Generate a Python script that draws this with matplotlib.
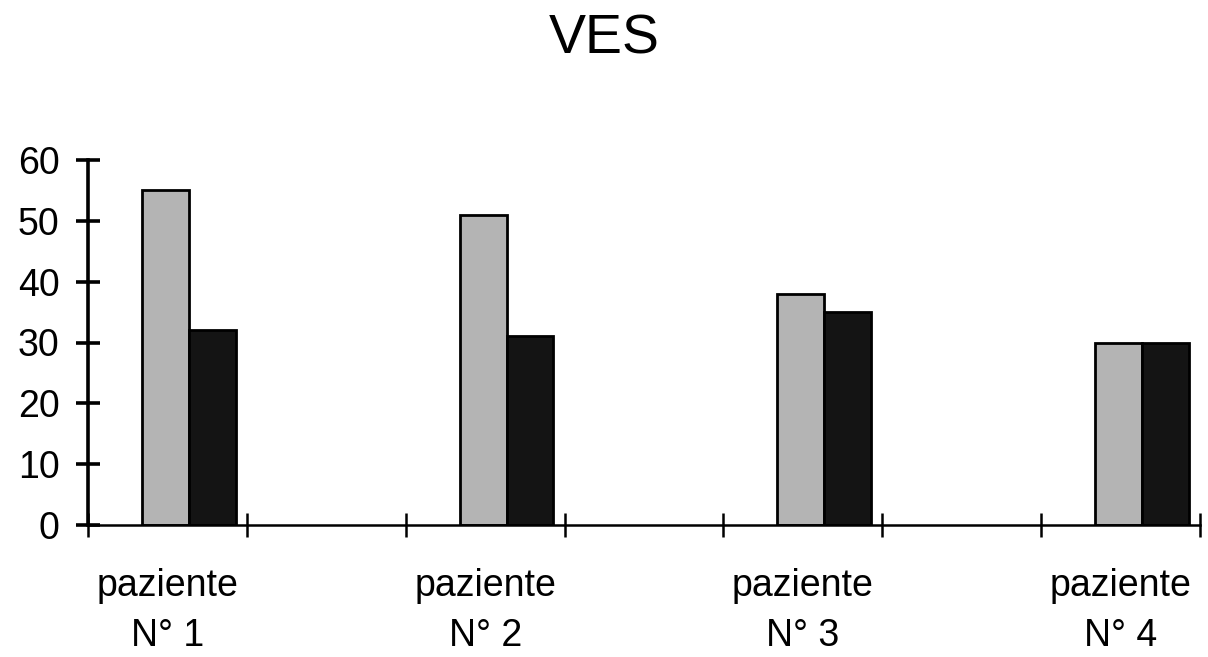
import numpy as np
import matplotlib.pyplot as plt

# Valeurs
pazienti = ["paziente\nN° 1", "paziente\nN° 2", "paziente\nN° 3", "paziente\nN° 4"]
ves_prima = [55, 51, 38, 30]
ves_dopo = [32, 31, 35, 30]
yticks = [0, 10, 20, 30, 40, 50, 60]

plt.rcParams['font.family'] = ['Liberation Sans', 'DejaVu Sans']

fig = plt.figure(figsize=(12.08, 6.57), dpi=100)
ax = fig.add_axes([88 / 1208, 1 - 525 / 657, (1200 - 88) / 1208, (525 - 160) / 657])

pos = np.arange(len(pazienti)) * 2
largeur = 0.295
ax.bar(pos + 0.635, ves_prima, width=-largeur, align='edge',
       color='#b4b4b4', edgecolor='black', linewidth=2.0)
ax.bar(pos + 0.635, ves_dopo, width=largeur, align='edge',
       color='#141414', edgecolor='black', linewidth=2.0)

ax.set_xlim(0, 7)
ax.set_ylim(0, 60)
ax.set_yticks(yticks)
ax.set_xticks(np.arange(0, 8))
ax.set_xticklabels([])
ax.set_xticks(pos + 0.5, pazienti, minor=True)

ax.spines['top'].set_visible(False)
ax.spines['right'].set_visible(False)
ax.spines['left'].set_linewidth(2.6)
ax.spines['bottom'].set_linewidth(1.8)

ax.tick_params(axis='y', direction='inout', length=17, width=2.6,
               labelsize=27, pad=12)
ax.tick_params(axis='x', which='major', direction='inout', length=17, width=1.8)
ax.tick_params(axis='x', which='minor', length=0, labelsize=27, pad=31)
for lab in ax.get_xticklabels(minor=True):
    lab.set_linespacing(1.5)

fig.suptitle("VES", fontsize=40, y=0.98)

fig.savefig("out.png", dpi=100)
